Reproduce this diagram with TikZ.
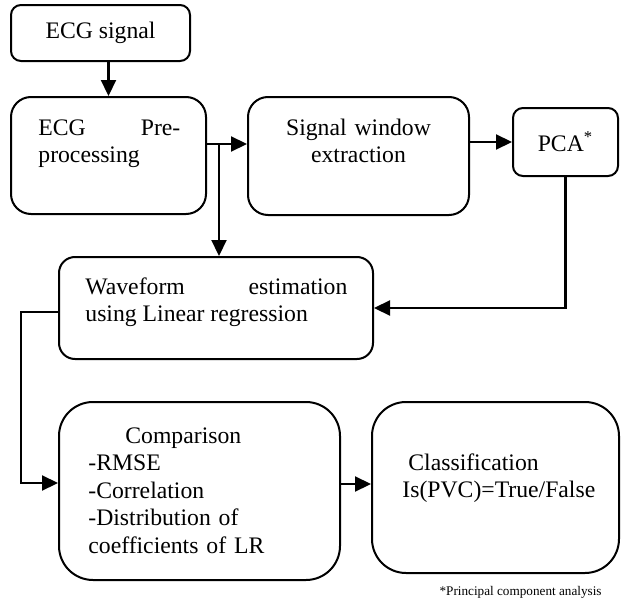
\documentclass[tikz,border=0pt]{standalone}
\usepackage{fontspec}
\setmainfont{Liberation Serif}
\usetikzlibrary{arrows.meta}

\begin{document}
\begin{tikzpicture}[x=0.5pt, y=-0.5pt, font=\fontsize{11.85}{13.8}\selectfont]
    \tikzstyle{box_style} = [draw=black, line width=1, inner sep=0]
    \tikzstyle{text_style} = [inner sep=0, anchor=base west, align=left]
    \tikzstyle{line_style} = [black, line width=1.1]
    \tikzstyle{arrow_style} = [->, black, line width=1.1, >={Triangle[length=8pt, width=7.5pt]}]

    \useasboundingbox (0,0) rectangle (622,605);

    \node[box_style, rounded corners=5pt, minimum width=89.5pt, minimum height=28pt] (ecg) at (100.5,33) {ECG signal};
    \node[box_style, rounded corners=10pt, minimum width=97.5pt, minimum height=58.5pt] (prep) at (108.5,155.5) {};
    \node[box_style, rounded corners=10pt, minimum width=110.5pt, minimum height=59pt] (window) at (358.5,156) {};
    \node[box_style, rounded corners=5pt, minimum width=52.5pt, minimum height=34pt] (pca) at (565.5,142) {PCA\textsuperscript{*}};
    \node[box_style, rounded corners=8pt, minimum width=157pt, minimum height=51pt] (wave) at (216,308) {};
    \node[box_style, rounded corners=17pt, minimum width=140.5pt, minimum height=89pt] (comp) at (199.5,491) {};
    \node[box_style, rounded corners=17pt, minimum width=123.5pt, minimum height=85.5pt] (cls) at (495.5,487.5) {};

    \node[text_style, text width=71pt, align=justify] (prep_txt) at (38,135) {ECG\hfill Pre-\\processing};
    \node[text_style, text width=100pt, anchor=base, align=center] (window_txt) at (358.5,135) {Signal window\\extraction};
    \node[text_style, text width=131pt, align=justify] (wave_txt) at (85,294) {Waveform\hfill estimation\\using Linear regression};
    \node[text_style, text width=120pt] (comp_txt) at (88,443) {\hspace*{18.5pt}Comparison\\-RMSE\\-Correlation\\-Distribution of\\coefficients of LR};
    \node[text_style, text width=105pt] (cls_txt) at (402,470) {\hspace*{3pt}Classification\\Is(PVC)=True/False};
    \node[inner sep=0, anchor=base east, font=\fontsize{6.6}{8}\selectfont] (note) at (602,595) {*Principal component analysis};

    \coordinate (split) at (219,144);
    \coordinate (turn) at (21,483);
    \coordinate (comp_out) at ([yshift=3.5pt]comp.east);

    \draw[arrow_style] (ecg.south -| prep.north) -- (prep.north);
    \draw[line_style] (prep.east |- split) -- (split);
    \draw[arrow_style] (split) -- (window.west |- split);
    \draw[arrow_style] (split) -- (split |- wave.north);
    \draw[arrow_style] (window.east |- pca.west) -- (pca.west);
    \draw[arrow_style] (pca.south) |- (wave.east);
    \draw[arrow_style] ([yshift=-2pt]wave.west) -| (turn) -- (comp.west |- turn);
    \draw[arrow_style] (comp_out) -- (comp_out -| cls.west);
\end{tikzpicture}
\end{document}
